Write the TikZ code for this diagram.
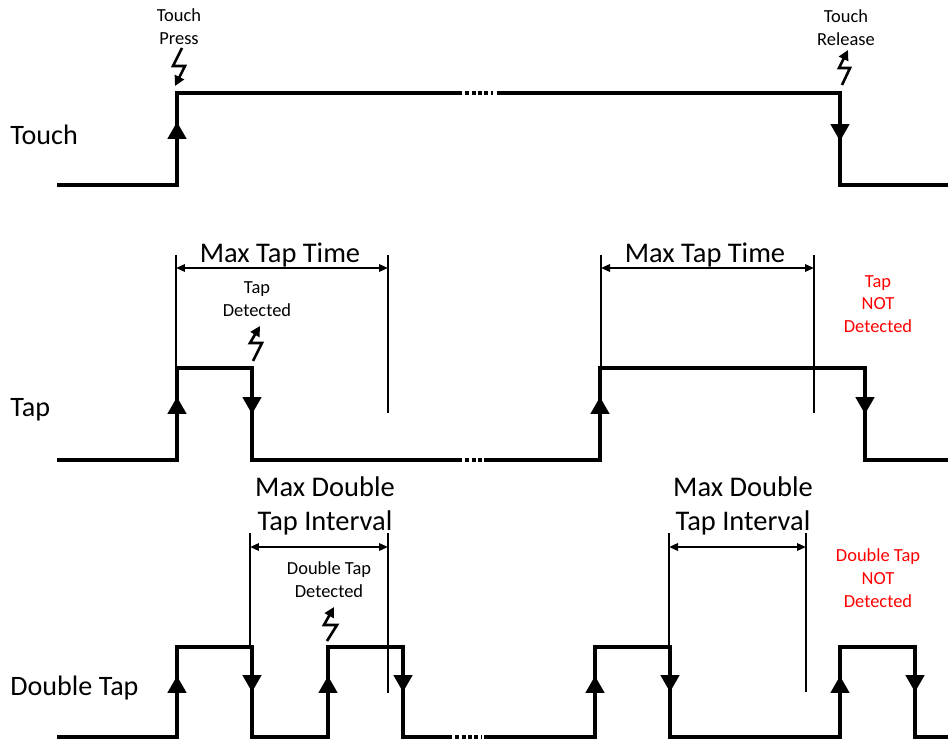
\documentclass[tikz,border=0pt]{standalone}
\usepackage{fontspec}
\setmainfont{Carlito}
\usetikzlibrary{arrows.meta,positioning}

\begin{document}
\begin{tikzpicture}[
    x=0.02cm, y=-0.02cm,
    wave/.style={line width=2.3pt, line join=miter},
    gapdots/.style={line width=2.3pt, dash pattern=on 0.08cm off 0.05cm},
    edgetip/.style={-{Triangle[length=0.34cm, width=0.38cm]}, line width=1pt},
    guide/.style={line width=0.8pt},
    dim/.style={{Triangle[length=0.18cm, width=0.15cm]}-{Triangle[length=0.18cm, width=0.15cm]}, line width=1pt},
    bolt/.style={-{Triangle[length=0.2cm, width=0.2cm]}, line width=1.5pt, line join=miter},
    rowlabel/.style={anchor=west, inner sep=0pt, font=\fontsize{16}{19}\selectfont},
    biglabel/.style={align=center, inner sep=0pt, font=\fontsize{16.2}{19.5}\selectfont},
    note/.style={align=center, inner sep=0pt, font=\fontsize{10.5}{13}\selectfont},
    miss/.style={note, text=red}
]
\useasboundingbox (0,0) rectangle (948,740);

% row names
\node[rowlabel] (touchlbl) at (10,135) {Touch};
\node[rowlabel] (taplbl) at (10,410) {Tap};
\node[rowlabel] (dbllbl) at (10,688) {Double Tap};

% touch signal
\draw[wave] (57,185) -- (177,185) -- (177,93) -- (462,93);
\draw[gapdots] (465,93) -- (493,93);
\draw[wave] (497,93) -- (840,93) -- (840,185) -- (948,185);
\draw[edgetip] (177,140) -- (177,122);
\draw[edgetip] (840,123) -- (840,141);
\node[note] (press) at (179,27) {Touch\\Press};
\node[note] (release) at (846,28) {Touch\\Release};
\draw[bolt] (182,48) -- (173,66) -- (185,66) -- (175,86);
\draw[bolt] (842,85) -- (850,68) -- (839,68) -- (848,50);

% tap signal
\draw[wave] (57,460) -- (177,460) -- (177,368) -- (252,368) -- (252,460) -- (462,460);
\draw[gapdots] (465,460) -- (488,460);
\draw[wave] (488,460) -- (600,460) -- (600,368) -- (865,368) -- (865,460) -- (948,460);
\draw[edgetip] (177,415) -- (177,397);
\draw[edgetip] (252,396) -- (252,414);
\draw[edgetip] (600,415) -- (600,397);
\draw[edgetip] (865,396) -- (865,414);

\coordinate (mtt1a) at (176,268);
\coordinate (mtt1b) at (388,268);
\coordinate (mtt2a) at (601,268);
\coordinate (mtt2b) at (814,268);
\draw[guide] (176,255) -- (176,368);
\draw[guide] (388,255) -- (388,413);
\draw[guide] (601,255) -- (601,368);
\draw[guide] (814,255) -- (814,413);
\draw[dim] (mtt1a) -- (mtt1b);
\draw[dim] (mtt2a) -- (mtt2b);
\node[biglabel] (mtt1) at (280,255) {Max Tap Time};
\node[biglabel] (mtt2) at (705,255) {Max Tap Time};
\node[note] (tapdet) at (257,299) {Tap\\Detected};
\draw[bolt] (253,361) -- (262,343) -- (250,343) -- (260,326);
\node[miss] (tapmiss) at (878,304) {Tap\\NOT\\Detected};

% double tap signal
\draw[wave] (57,737) -- (177,737) -- (177,647) -- (252,647) -- (252,737) -- (328,737)
    -- (328,647) -- (403,647) -- (403,737) -- (452,737);
\draw[gapdots] (455,737) -- (482,737);
\draw[wave] (484,737) -- (595,737) -- (595,647) -- (670,647) -- (670,737) -- (840,737)
    -- (840,647) -- (915,647) -- (915,737) -- (948,737);
\draw[edgetip] (177,693) -- (177,676);
\draw[edgetip] (252,675) -- (252,692);
\draw[edgetip] (328,693) -- (328,676);
\draw[edgetip] (403,675) -- (403,692);
\draw[edgetip] (595,693) -- (595,676);
\draw[edgetip] (670,675) -- (670,692);
\draw[edgetip] (840,693) -- (840,676);
\draw[edgetip] (915,675) -- (915,692);

\coordinate (mdti1a) at (250,547);
\coordinate (mdti1b) at (388,547);
\coordinate (mdti2a) at (669,547);
\coordinate (mdti2b) at (806,547);
\draw[guide] (250,533) -- (250,647);
\draw[guide] (388,533) -- (388,693);
\draw[guide] (669,533) -- (669,647);
\draw[guide] (806,533) -- (806,692);
\draw[dim] (mdti1a) -- (mdti1b);
\draw[dim] (mdti2a) -- (mdti2b);
\node[biglabel] (mdti1) at (325,506) {Max Double\\Tap Interval};
\node[biglabel] (mdti2) at (743,506) {Max Double\\Tap Interval};
\node[note] (dbldet) at (329,580) {Double Tap\\Detected};
\draw[bolt] (327,641) -- (337,625) -- (324,625) -- (334,607);
\node[miss] (dblmiss) at (878,578) {Double Tap\\NOT\\Detected};
\end{tikzpicture}
\end{document}
